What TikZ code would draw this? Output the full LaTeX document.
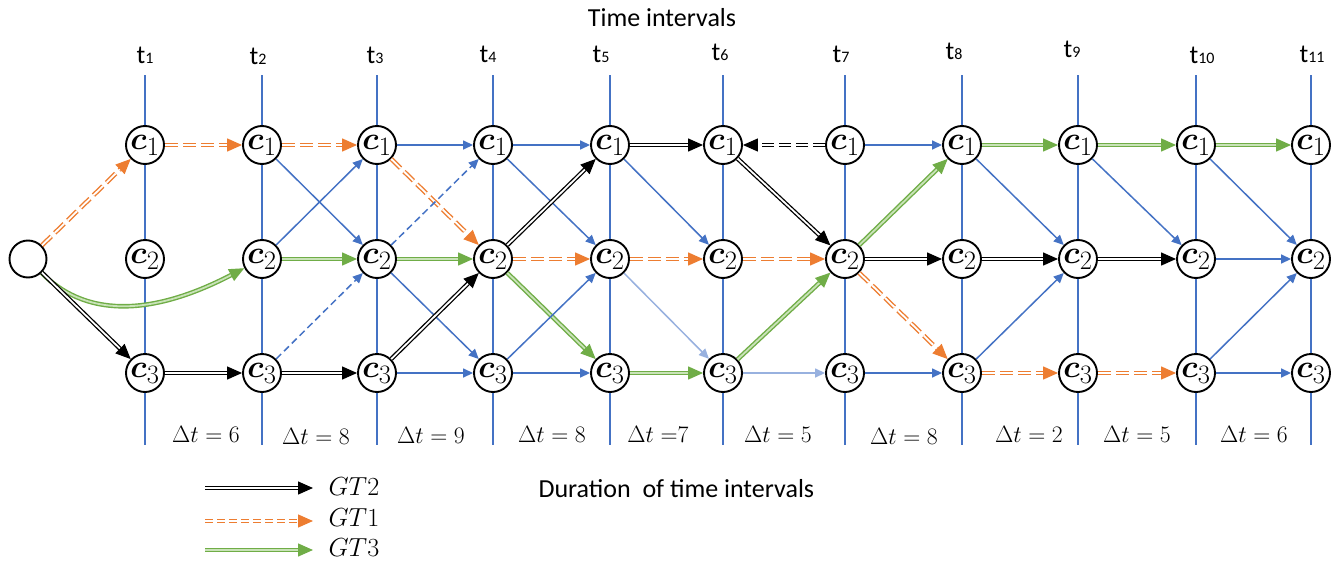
\documentclass[tikz,border=0pt]{standalone}
\usepackage{amsmath}
\usepackage{graphicx}
\usepackage{fontspec}
\newfontfamily\calib{Carlito}
\usetikzlibrary{arrows.meta}
\definecolor{oblue}{HTML}{4472C4}
\definecolor{oorange}{HTML}{ED7D31}
\definecolor{ogreen}{HTML}{70AD47}
\definecolor{lgreen}{HTML}{C9E3B8}
\newcommand{\cl}[1]{\scalebox{1.28}{$\boldsymbol{c}_{#1}$}}
\newcommand{\dtl}[1]{\scalebox{0.95}{$#1$}}
\newcommand{\gtl}[1]{\scalebox{1.05}{$#1$}}
\begin{document}
\begin{tikzpicture}[x=1pt,y=-1pt,
  cn/.style={circle,draw=black,line width=1.9pt,fill=white,minimum size=38pt,inner sep=0pt,font=\Huge},
  vline/.style={draw=oblue,line width=1.6pt},
  bl/.style={draw=oblue,line width=1.5pt,-{Triangle[length=10pt,width=9pt]}},
  bld/.style={bl,dash pattern=on 7pt off 4pt},
  lbl/.style={bl,draw=oblue!55},
  bigtip/.style={-{Triangle[length=15pt,width=13pt]}},
  gtwo/.style={draw=black,double=white,line width=1.3pt,double distance=1.8pt,bigtip},
  gtwod/.style={gtwo,dash pattern=on 12pt off 5pt},
  gone/.style={draw=oorange,double=white,line width=1.4pt,double distance=1.8pt,dash pattern=on 13pt off 5pt,bigtip},
  gthree/.style={draw=ogreen,double=lgreen,line width=1.4pt,double distance=1.8pt,bigtip},
  tlab/.style={anchor=base,font=\calib\fontsize{26}{26}\selectfont},
  dlab/.style={anchor=base,font=\Huge},
  glab/.style={anchor=west,font=\Huge}
]
\useasboundingbox (0,0) rectangle (1341,562);
% vertical time lines and nodes
\foreach \x [count=\i] in {145,262,377,493,610,723,845,962,1078,1196,1311}{
  \coordinate (vt\i) at (\x,75);
  \coordinate (vb\i) at (\x,445);
  \draw[vline] (vt\i) -- (vb\i);
  \node[cn] (n\i-1) at (\x,145) {\cl{1}};
  \node[cn] (n\i-2) at (\x,259) {\cl{2}};
  \node[cn] (n\i-3) at (\x,373) {\cl{3}};
}
\node[circle,draw=black,line width=1.9pt,fill=white,minimum size=37pt,inner sep=0pt] (s) at (28,259) {};
% time labels
\node[tlab] (title) at (662,27) {Time intervals};
\foreach \x/\y/\n in {145/63/1,258/64/2,375/63/3,488/62/4,601/62/5,720/60/6,841/62/7,954/59/8,1072/57/9,1202/63/10,1312/62/11}{
  \node[tlab] (tl\n) at (\x,\y) {t{\fontsize{16}{16}\selectfont \n}};
}
% durations
\node[dlab] (d1) at (206,442) {\dtl{\Delta t = 6}};
\node[dlab] (d2) at (316,444) {\dtl{\Delta t = 8}};
\node[dlab] (d3) at (431,443) {\dtl{\Delta t = 9}};
\node[dlab] (d4) at (552,442) {\dtl{\Delta t = 8}};
\node[dlab] (d5) at (658,442) {\dtl{\Delta t\;{=}7}};
\node[dlab] (d6) at (778,442) {\dtl{\Delta t = 5}};
\node[dlab] (d7) at (904,444) {\dtl{\Delta t = 8}};
\node[dlab] (d8) at (1029,442) {\dtl{\Delta t = 2}};
\node[dlab] (d9) at (1137,442) {\dtl{\Delta t = 5}};
\node[dlab] (d10) at (1254,442) {\dtl{\Delta t = 6}};
\node[tlab,anchor=base west] (dur) at (535,497) {Duration\ \ of time intervals};
% legend
\coordinate (l2a) at (205,488); \coordinate (l2b) at (313,488);
\coordinate (l1a) at (205,521); \coordinate (l1b) at (313,521);
\coordinate (l3a) at (205,550); \coordinate (l3b) at (313,550);
\draw[gtwo] (l2a) -- (l2b);
\draw[gone,dash pattern=on 8pt off 4pt] (l1a) -- (l1b);
\draw[gthree] (l3a) -- (l3b);
\node[glab] (g2) at (325,487) {\gtl{GT2}};
\node[glab] (g1) at (325,518) {\gtl{GT1}};
\node[glab] (g3) at (325,548) {\gtl{GT3}};
% start
\draw[gone] (s) -- (n1-1);
\draw[gthree] (s) .. controls (90,322) and (160,312) .. (n2-2);
\draw[gtwo] (s) -- (n1-3);
\draw[gone] (n1-1) -- (n2-1);
\draw[gtwo] (n1-3) -- (n2-3);
% t2
\draw[gone] (n2-1) -- (n3-1);
\draw[bl] (n2-1) -- (n3-2);
\draw[bl] (n2-2) -- (n3-1);
\draw[gthree] (n2-2) -- (n3-2);
\draw[bld] (n2-3) -- (n3-2);
\draw[gtwo] (n2-3) -- (n3-3);
% t3
\draw[bl] (n3-1) -- (n4-1);
\draw[gone] (n3-1) -- (n4-2);
\draw[bld] (n3-2) -- (n4-1);
\draw[gthree] (n3-2) -- (n4-2);
\draw[bl] (n3-2) -- (n4-3);
\draw[gtwo] (n3-3) -- (n4-2);
\draw[bl] (n3-3) -- (n4-3);
% t4
\draw[bl] (n4-1) -- (n5-1);
\draw[bl] (n4-1) -- (n5-2);
\draw[gtwo] (n4-2) -- (n5-1);
\draw[gone] (n4-2) -- (n5-2);
\draw[gthree] (n4-2) -- (n5-3);
\draw[bl] (n4-3) -- (n5-2);
\draw[bl] (n4-3) -- (n5-3);
% t5
\draw[gtwo] (n5-1) -- (n6-1);
\draw[bl] (n5-1) -- (n6-2);
\draw[gone] (n5-2) -- (n6-2);
\draw[lbl] (n5-2) -- (n6-3);
\draw[gthree] (n5-3) -- (n6-3);
% t6
\draw[gtwod] (n7-1) -- (n6-1);
\draw[gtwo] (n6-1) -- (n7-2);
\draw[gone] (n6-2) -- (n7-2);
\draw[gthree] (n6-3) -- (n7-2);
\draw[lbl] (n6-3) -- (n7-3);
% t7
\draw[bl] (n7-1) -- (n8-1);
\draw[gthree] (n7-2) -- (n8-1);
\draw[gtwo] (n7-2) -- (n8-2);
\draw[gone] (n7-2) -- (n8-3);
\draw[bl] (n7-3) -- (n8-3);
% t8
\draw[gthree] (n8-1) -- (n9-1);
\draw[bl] (n8-1) -- (n9-2);
\draw[gtwo] (n8-2) -- (n9-2);
\draw[bl] (n8-3) -- (n9-2);
\draw[gone] (n8-3) -- (n9-3);
% t9
\draw[gthree] (n9-1) -- (n10-1);
\draw[bl] (n9-1) -- (n10-2);
\draw[gtwo] (n9-2) -- (n10-2);
\draw[gone] (n9-3) -- (n10-3);
% t10
\draw[gthree] (n10-1) -- (n11-1);
\draw[bl] (n10-1) -- (n11-2);
\draw[bl] (n10-2) -- (n11-2);
\draw[bl] (n10-3) -- (n11-2);
\draw[bl] (n10-3) -- (n11-3);
\end{tikzpicture}
\end{document}
